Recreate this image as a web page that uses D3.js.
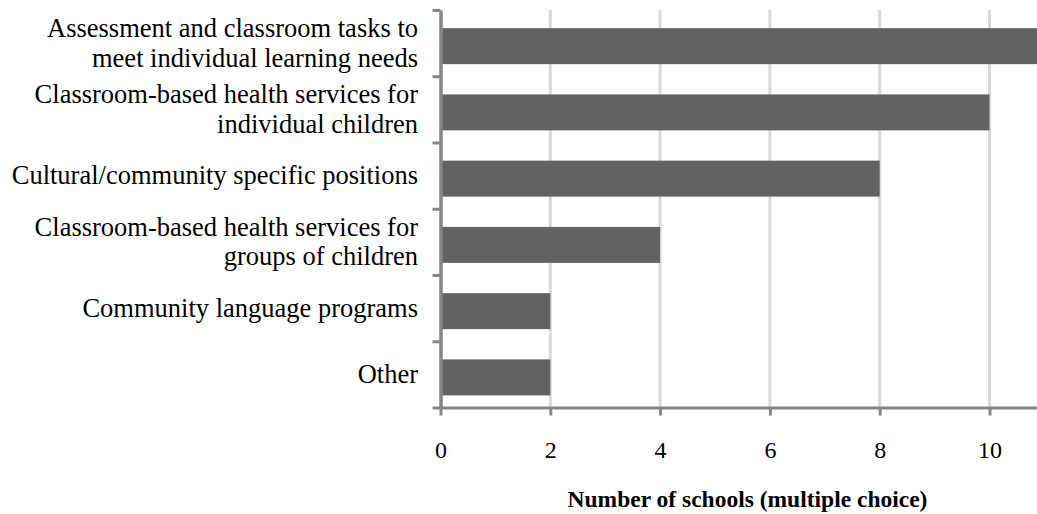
<!DOCTYPE html>
<html>
<head>
<meta charset="utf-8">
<script src="https://cdn.jsdelivr.net/npm/d3@7/dist/d3.min.js"></script>
<style>
  html, body { margin: 0; padding: 0; background: #fff; }
  svg { display: block; font-family: "Liberation Serif", "Times New Roman", serif; }
</style>
</head>
<body>
<svg id="chart" width="1037" height="514"></svg>
<script>
// Support options and number of schools offering each (multiple choice)
const categories = [
  ["Assessment and classroom tasks to", "meet individual learning needs"],
  ["Classroom-based health services for", "individual children"],
  ["Cultural/community specific positions"],
  ["Classroom-based health services for", "groups of children"],
  ["Community language programs"],
  ["Other"]
];
const schools = [11, 10, 8, 4, 2, 2];
const xTicks = [0, 2, 4, 6, 8, 10];
const xTitle = "Number of schools (multiple choice)";

const W = 1037, H = 514;
const plotL = 440.5, plotT = 10, plotB = 407.5, plotR = W;
const unit = 54.9; // pixels per school

const svg = d3.select("#chart");

const x = d3.scaleLinear()
  .domain([0, (plotR - plotL) / unit])
  .range([plotL, plotR]);

const y = d3.scaleBand()
  .domain(d3.range(categories.length))
  .range([plotT, plotB])
  .paddingInner(0.457)
  .paddingOuter(0.2285)
  .align(0.55);

// plot-area clip
svg.append("defs").append("clipPath").attr("id", "plot")
  .append("rect").attr("x", plotL).attr("y", plotT)
  .attr("width", plotR - plotL).attr("height", plotB - plotT);

// vertical gridlines
svg.append("g").selectAll("line")
  .data(xTicks.filter(d => d > 0))
  .join("line")
  .attr("x1", d => x(d)).attr("x2", d => x(d))
  .attr("y1", plotT).attr("y2", plotB)
  .attr("stroke", "#d9d9d9").attr("stroke-width", 3);

// bars
svg.append("g").attr("clip-path", "url(#plot)")
  .selectAll("rect")
  .data(schools)
  .join("rect")
  .attr("x", x(0))
  .attr("y", (d, i) => y(i) + 1.5)
  .attr("width", d => x(d) - x(0))
  .attr("height", y.bandwidth())
  .attr("fill", "#626262");

// category axis: ticks at band boundaries
const yEdge = d3.scaleLinear().domain([0, categories.length]).range([plotT, plotB]);
const yAxis = svg.append("g")
  .attr("transform", `translate(${plotL},0)`)
  .call(d3.axisLeft(yEdge).ticks(categories.length).tickSize(8).tickSizeOuter(0).tickFormat(""));
yAxis.select(".domain").attr("stroke", "#868686").attr("stroke-width", 3.5);
yAxis.selectAll(".tick line").attr("stroke", "#868686").attr("stroke-width", 3);

// value axis
const xAxis = svg.append("g")
  .attr("transform", `translate(0,${plotB})`)
  .call(d3.axisBottom(x).tickValues(xTicks).tickSize(8).tickSizeOuter(0));
xAxis.select(".domain").attr("stroke", "#868686").attr("stroke-width", 3);
xAxis.selectAll(".tick line").attr("stroke", "#868686").attr("stroke-width", 3);
xAxis.selectAll(".tick text")
  .attr("fill", "#000")
  .attr("font-family", "Liberation Serif, Times New Roman, serif")
  .attr("font-size", 24)
  .attr("dy", 0)
  .attr("y", 50);

// category labels
const lineGap = 29.5;
svg.append("g").selectAll("text")
  .data(categories)
  .join("text")
  .attr("text-anchor", "end")
  .attr("font-size", 26.5)
  .attr("fill", "#000")
  .each(function (lines, i) {
    const c = yEdge(i + 0.5) + 8.8;
    const t = d3.select(this);
    lines.forEach((ln, k) => {
      t.append("tspan")
        .attr("x", 418)
        .attr("y", c + (k - (lines.length - 1) / 2) * lineGap)
        .text(ln);
    });
  });

// axis title
svg.append("text")
  .attr("x", 747.5)
  .attr("y", 507)
  .attr("text-anchor", "middle")
  .attr("font-size", 23.5)
  .attr("font-weight", "bold")
  .attr("fill", "#000")
  .text(xTitle);
</script>
</body>
</html>
